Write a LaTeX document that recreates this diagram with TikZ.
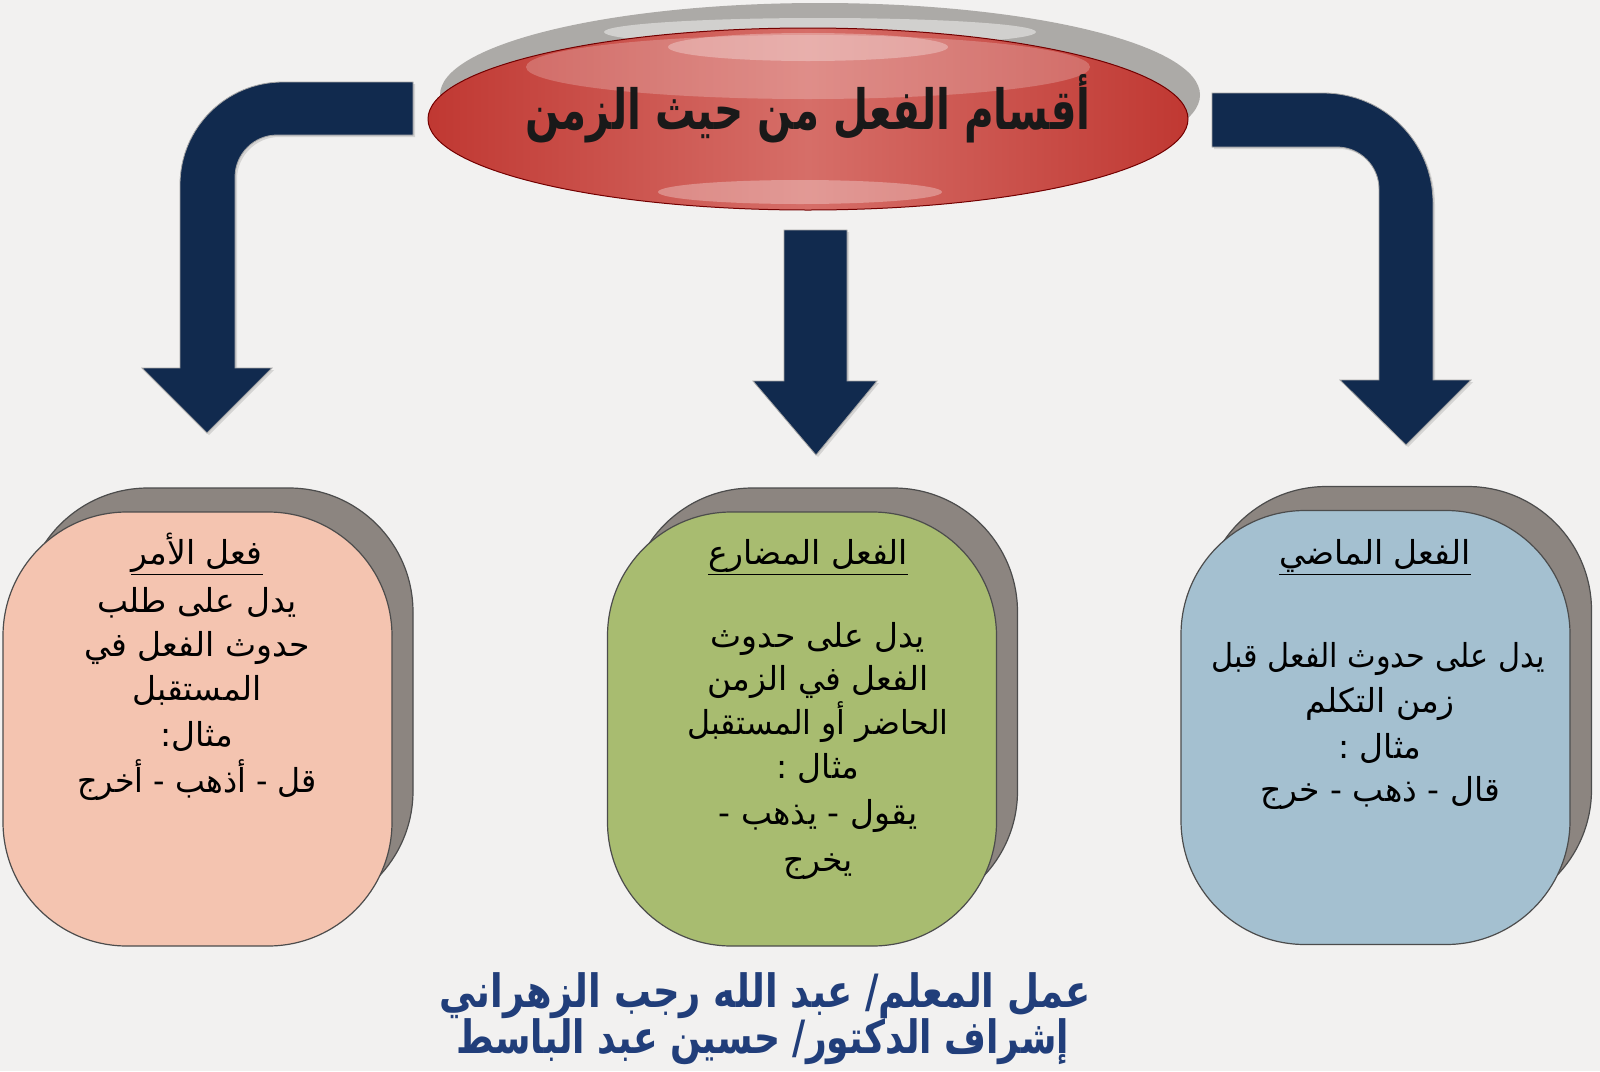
\documentclass[tikz,border=0pt]{standalone}
\usepackage{fontspec}
\usetikzlibrary{shapes.geometric,shadows}
\newfontfamily\arabicfont[Script=Arabic]{DejaVu Sans}
\TeXXeTstate=1
\newcommand{\artx}[1]{{\arabicfont\beginR #1\endR}}
\definecolor{bgc}{RGB}{242,241,240}
\definecolor{navy}{RGB}{17,42,78}
\definecolor{pinkc}{RGB}{244,196,176}
\definecolor{greenc}{RGB}{168,188,112}
\definecolor{bluec}{RGB}{164,192,208}
\definecolor{shadc}{RGB}{140,133,128}
\definecolor{redout}{RGB}{192,56,50}
\definecolor{redmid}{RGB}{214,110,104}
\definecolor{ringc}{RGB}{172,170,167}
\definecolor{credc}{RGB}{33,62,122}
\tikzset{
  bx/.style={draw=black!70, line width=0.6pt, rounded corners=62pt,
    minimum width=194.5pt, minimum height=217pt, inner sep=0pt},
  sh/.style={bx, fill=shadc, minimum height=213.5pt},
  ln/.style={font=\fontsize{16.5}{19}\selectfont, text=black, inner sep=0pt,
    text height=0.7em, text depth=0.1em},
  arw/.style={fill=navy, draw=black!35, line width=0.4pt,
    drop shadow={shadow xshift=1pt, shadow yshift=-1pt, opacity=0.25}},
  cred/.style={font=\fontsize{20.5}{24}\selectfont\bfseries, text=credc, inner sep=0pt,
    text height=0.7em, text depth=0.1em}
}
\begin{document}
\begin{tikzpicture}[x=0.5pt,y=-0.5pt]
\fill[bgc] (0,0) rectangle (1600,1071);
\useasboundingbox (0,0) rectangle (1600,1071);

% ---- arrows ----
\draw[arw] (413,82) -- (283,82) .. controls (226,82) and (180,128) .. (180,185)
  -- (180,368) -- (142,368) -- (207,433) -- (272,368) -- (235,368) -- (235,177)
  .. controls (235,154) and (254,135) .. (277,135) -- (413,135) -- cycle;
\draw[arw] (1212,93) -- (1323,93) .. controls (1384,93) and (1433,142) .. (1433,203)
  -- (1433,380) -- (1471,380) -- (1406,445) -- (1340,380) -- (1379,380) -- (1379,189)
  .. controls (1379,166) and (1360,147) .. (1337,147) -- (1212,147) -- cycle;
\draw[arw] (784,230) -- (847,230) -- (847,381) -- (877,381) -- (816,455)
  -- (753,381) -- (784,381) -- cycle;

% ---- title ellipse ----
\fill[ringc] (820,95) ellipse [x radius=190pt, y radius=46pt];
\fill[white, opacity=0.45] (820,32) ellipse [x radius=108pt, y radius=7pt];
\node[ellipse, minimum width=380pt, minimum height=91pt, inner sep=0pt,
  draw=red!45!black, line width=0.5pt,
  left color=redout, right color=redout, middle color=redmid] (title) at (808,119) {};
\fill[white, opacity=0.22] (808,67) ellipse [x radius=141pt, y radius=16pt];
\fill[white, opacity=0.30] (808,47) ellipse [x radius=70pt, y radius=7pt];
\fill[white, opacity=0.30] (800,192) ellipse [x radius=71pt, y radius=6pt];
\node[font=\fontsize{23.5}{28}\selectfont\bfseries, text=black!90, inner sep=0pt,
  text height=0.7em, text depth=0.1em] (titletext) at (808,123)
  {\scalebox{0.86}[1.18]{\artx{أقسام الفعل من حيث الزمن}}};

% ---- boxes ----
\node[sh] (shpink) at (218.5,701.5) {};
\node[bx, fill=pinkc] (pink) at (197.5,729) {};
\node[sh] (shgreen) at (823,701.5) {};
\node[bx, fill=greenc] (green) at (802,729) {};
\node[sh] (shblue) at (1397,700) {};
\node[bx, fill=bluec] (blue) at (1375.5,727.5) {};

% pink text
\node[ln] (p0) at (197,558) {\underline{\artx{فعل الأمر}}};
\node[ln] (p1) at (197,606) {\artx{يدل على طلب}};
\node[ln] (p2) at (197,650) {\artx{حدوث الفعل في}};
\node[ln] (p3) at (197,694) {\artx{المستقبل}};
\node[ln] (p4) at (197,740) {\artx{مثال:}};
\node[ln] (p5) at (197,786) {\scalebox{0.96}[1]{\artx{قل - أذهب - أخرج}}};

% green text
\node[ln] (g0) at (808,558) {\underline{\artx{الفعل المضارع}}};
\node[ln] (g1) at (818,641) {\artx{يدل على حدوث}};
\node[ln] (g2) at (818,684) {\artx{الفعل في الزمن}};
\node[ln] (g3) at (818,728) {\scalebox{0.96}[1]{\artx{الحاضر أو المستقبل}}};
\node[ln] (g4) at (818,772) {\artx{مثال :}};
\node[ln] (g5) at (818,818) {\artx{يقول - يذهب -}};
\node[ln] (g6) at (818,865) {\artx{يخرج}};

% blue text
\node[ln] (b0) at (1375,558) {\underline{\artx{الفعل الماضي}}};
\node[ln] (b1) at (1378,661) {\scalebox{0.92}[1]{\artx{يدل على حدوث الفعل قبل}}};
\node[ln] (b2) at (1380,706) {\artx{زمن التكلم}};
\node[ln] (b3) at (1380,752) {\artx{مثال :}};
\node[ln] (b4) at (1380,795) {\artx{قال - ذهب - خرج}};

% credits
\node[cred] (cr1) at (765,1001) {\scalebox{0.9}[1.12]{\artx{عمل المعلم/ عبد الله رجب الزهراني}}};
\node[cred] (cr2) at (763,1047) {\scalebox{0.88}[1.12]{\artx{إشراف الدكتور/ حسين عبد الباسط}}};
\end{tikzpicture}
\end{document}
